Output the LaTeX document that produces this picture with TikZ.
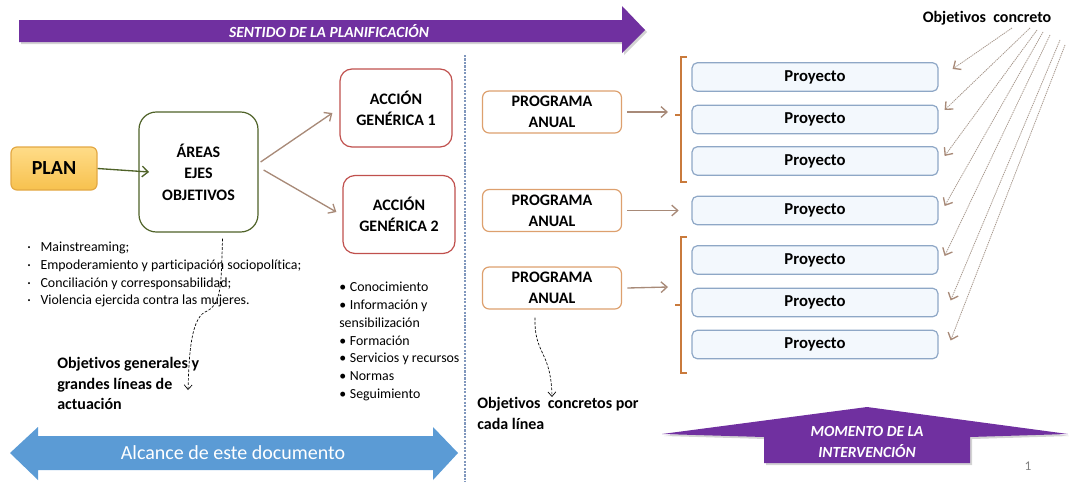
\documentclass[tikz,border=0pt]{standalone}
\usepackage{fontspec}
\setmainfont{Carlito}[Ligatures={NoCommon}]
\usepackage{xcolor}
\usepackage{tikz}
\usetikzlibrary{positioning, shapes, calc, arrows.meta, shadows}
\definecolor{planpurple}{HTML}{7030A0}
\definecolor{scopeblue}{HTML}{5B9BD5}
\definecolor{plantop}{HTML}{FFDC88}
\definecolor{planbottom}{HTML}{F7C14E}
\definecolor{planline}{HTML}{E3A843}
\definecolor{olive}{HTML}{4F6228}
\definecolor{accred}{HTML}{C0504D}
\definecolor{progline}{HTML}{DDA06E}
\definecolor{proyline}{HTML}{8EA7C6}
\definecolor{proyfill}{HTML}{F3F8FD}
\definecolor{linkbrown}{HTML}{A88A78}
\definecolor{bracebrown}{HTML}{C97A3C}
\definecolor{sepblue}{HTML}{8097BD}
\definecolor{objgray}{HTML}{A8998E}

\begin{document}
\begin{tikzpicture}[x=0.75pt, y=-0.75pt,
    box/.style={draw, rectangle, align=center, inner sep=0pt, line width=0.9pt,
      font=\bfseries\fontsize{12}{16}\selectfont},
    planbox/.style={box, draw=planline, top color=plantop, bottom color=planbottom,
      rounded corners=4.5pt, minimum width=64.5pt, minimum height=32.25pt,
      font=\bfseries\fontsize{15}{18}\selectfont},
    areabox/.style={box, draw=olive, fill=white, rounded corners=13pt,
      minimum width=89.25pt, minimum height=90pt},
    accbox/.style={box, draw=accred, fill=white, rounded corners=9pt,
      minimum width=84pt, minimum height=58.5pt},
    progbox/.style={box, draw=progline, fill=white, rounded corners=5pt,
      minimum width=104.25pt, minimum height=31.5pt,
      font=\bfseries\fontsize{12}{15.5}\selectfont},
    proybox/.style={box, draw=proyline, fill=proyfill, rounded corners=4pt,
      minimum width=184.5pt, minimum height=21.4pt,
      font=\bfseries\fontsize{12.5}{15}\selectfont},
    link/.style={draw=linkbrown, line width=1pt, -{Straight Barb[length=4.5pt, width=8pt]}},
    dashlink/.style={draw=black, line width=0.5pt, dash pattern=on 2pt off 1.2pt,
      -{Straight Barb[length=3.5pt, width=6pt]}},
    objlink/.style={draw=objgray, line width=0.6pt, dash pattern=on 1pt off 0.6pt,
      -{Straight Barb[length=4.5pt, width=8pt, color=linkbrown, line width=1pt]}},
    brace/.style={draw=bracebrown, line width=1.6pt},
    smalltext/.style={align=left, inner sep=0pt, anchor=north west,
      font=\fontsize{10.4}{13.2}\selectfont},
    boldtext/.style={align=left, inner sep=0pt, anchor=north west,
      font=\bfseries\fontsize{12}{15.4}\selectfont},
    arrowtext/.style={text=white, align=center, font=\bfseries\itshape\fontsize{11.6}{15.8}\selectfont}
  ]
  \useasboundingbox (0,0) rectangle (1069,482);

  \draw[sepblue, line width=2pt, dash pattern=on 1.6pt off 1pt] (465,55) -- (465,482);

  \fill[planpurple, drop shadow={shadow xshift=1.5pt, shadow yshift=-1.5pt, opacity=0.35}]
    (19,20) -- (622,20) -- (622,6) -- (645,30) -- (622,53) -- (622,42) -- (19,42) -- cycle;
  \node[arrowtext] (sentido) at (329,31) {SENTIDO DE LA PLANIFICACIÓN};

  \node[planbox] (plan) at (54,168.5) {PLAN};
  \node[areabox] (areas) at (198.5,172) {ÁREAS\\EJES\\OBJETIVOS};
  \node[accbox] (acc1) at (396,108) {ACCIÓN\\GENÉRICA 1};
  \node[accbox] (acc2) at (399,214.5) {ACCIÓN\\GENÉRICA 2};

  \draw[draw=olive, line width=1pt, -{Straight Barb[length=4.5pt, width=8pt]}]
    (plan.east) -- ([xshift=8pt]areas.west);
  \draw[link] ([shift={(2,-10)}]areas.east) -- ([shift={(-7,5)}]acc1.west);
  \draw[link] ([shift={(5,-2)}]areas.east) -- ([shift={(-6,-2.5)}]acc2.west);

  \node[smalltext] (ejes) at (27,242) {%
    \makebox[10pt][l]{·}Mainstreaming;\\
    \makebox[10pt][l]{·}Empoderamiento y participación sociopolítica;\\
    \makebox[10pt][l]{·}Conciliación y corresponsabilidad;\\
    \makebox[10pt][l]{·}Violencia ejercida contra las mujeres.};
  \node[smalltext, font=\fontsize{10.4}{13.3}\selectfont] (lineas) at (339,282) {%
    \makebox[8pt][l]{•}Conocimiento\\
    \makebox[8pt][l]{•}Información y\\
    sensibilización\\
    \makebox[8pt][l]{•}Formación\\
    \makebox[8pt][l]{•}Servicios y recursos\\
    \makebox[8pt][l]{•}Normas\\
    \makebox[8pt][l]{•}Seguimiento};

  \node[boldtext] (objgen) at (57,357) {Objetivos generales y\\grandes líneas de\\actuación};
  \coordinate (objgentip) at (188,390);
  \draw[dashlink] ([shift={(24,6)}]areas.south) .. controls (221,285) and (222,305) .. (205,312)
    .. controls (190,320) and (189,360) .. (objgentip);

  \fill[scopeblue] (10,453) -- (38,427) -- (38,436) -- (433,436) -- (433,427) -- (458,453)
    -- (433,480) -- (433,470) -- (38,470) -- (38,480) -- cycle;
  \node[text=white, font=\fontsize{15}{18}\selectfont] (alcance) at (233,453) {Alcance de este documento};

  \node[progbox] (prog1) at (552,112) {PROGRAMA\\ANUAL};
  \node[progbox] (prog2) at (552,210.5) {PROGRAMA\\ANUAL};
  \node[progbox] (prog3) at (552,288) {PROGRAMA\\ANUAL};

  \foreach \i/\y in {1/77, 2/119.5, 3/161, 4/210.5, 5/260, 6/302.5, 7/344.5}
    \node[proybox] (proy\i) at (815,\y) {Proyecto};

  \draw[brace] (687,57) -- (681,57) -- (681,182) -- (687,182);
  \draw[brace] (681,115) -- (675,115);
  \draw[brace] (687,237) -- (681,237) -- (681,373) -- (687,373);
  \draw[brace] (681,305) -- (675,305);
  \coordinate (brace1) at (668,112);
  \coordinate (brace2) at (668,287);

  \draw[link] ([xshift=4pt]prog1.east) -- (brace1);
  \draw[link, shorten >=9.5pt] ([xshift=4pt]prog2.east) -- (proy4.west);
  \draw[link] ([xshift=4pt]prog3.east) -- (brace2);

  \node[boldtext] (objcon) at (477,397) {Objetivos~ concretos por\\cada línea};
  \coordinate (objcontip) at (552,397);
  \draw[dashlink] ([shift={(-17,8)}]prog3.south) .. controls (534,355) and (551,350) .. (objcontip);

  \node[font=\bfseries\fontsize{12}{14}\selectfont] (objconc) at (987,18) {Objetivos~ concreto};
  \foreach \i/\sx/\sy/\ex/\ey in {1/25/10/14/-8, 2/43/10/6/-9.5, 3/50/12/6/-5, 4/56/14/6/-4.5,
      5/63/17/6/-4, 6/73/22/12/-2, 7/78/27/12/-4}
    \draw[objlink] ([shift={(\sx,\sy)}]objconc.center) -- ([shift={(\ex,\ey)}]proy\i.east);

  \fill[planpurple, drop shadow={shadow xshift=1.5pt, shadow yshift=-1.5pt, opacity=0.35}]
    (662,434) -- (867,407) -- (1068,434) -- (970,437) -- (970,463) -- (764,463) -- (764,437) -- cycle;
  \node[arrowtext] (momento) at (867,442) {MOMENTO DE LA\\INTERVENCIÓN};

  \node[text=gray, font=\fontsize{10}{12}\selectfont] (pagina) at (1028,466) {1};
\end{tikzpicture}
\end{document}
